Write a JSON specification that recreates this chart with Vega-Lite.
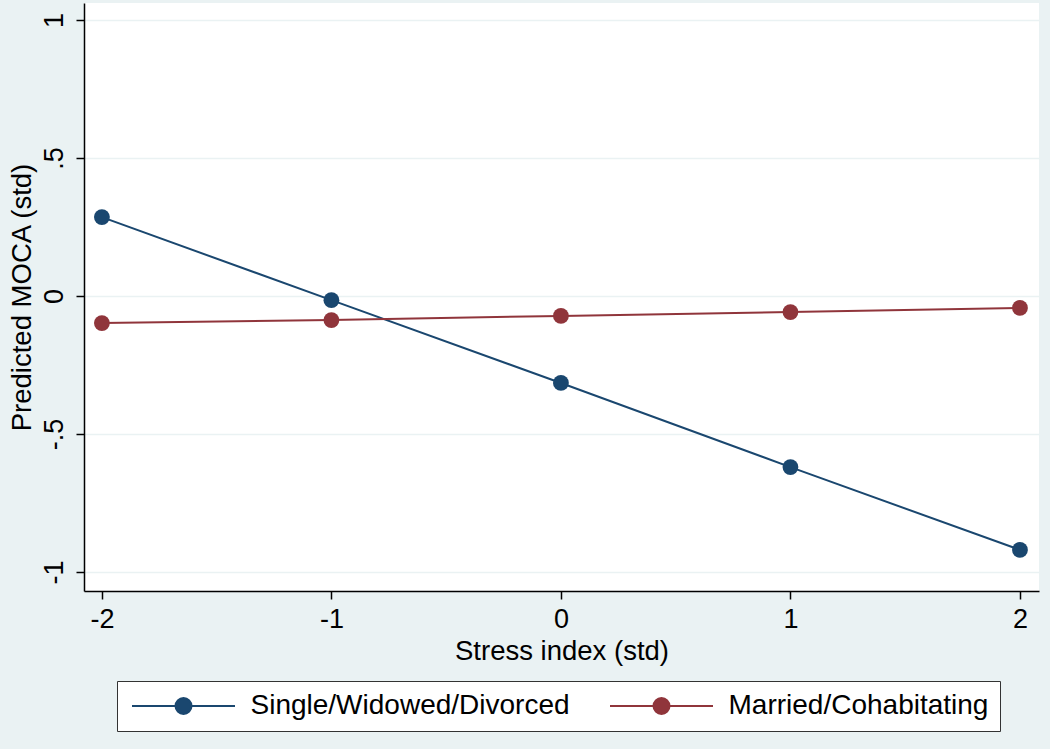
{
  "$schema": "https://vega.github.io/schema/vega-lite/v6.json",
  "width": 955,
  "height": 588,
  "autosize": {"type": "none"},
  "padding": {"left": 84, "top": 3, "right": 11, "bottom": 158},
  "background": "#eaf2f3",
  "config": {
    "view": {"stroke": null, "fill": "white"},
    "font": "Liberation Sans",
    "axis": {
      "labelFont": "Liberation Sans",
      "titleFont": "Liberation Sans",
      "labelFontSize": 27,
      "titleFontSize": 27.5,
      "labelColor": "#000000",
      "titleColor": "#000000",
      "titleFontWeight": "normal",
      "domainColor": "#000000",
      "domainWidth": 1.5,
      "tickColor": "#000000",
      "tickWidth": 1.5,
      "tickSize": 8,
      "gridColor": "#eaf2f3",
      "gridWidth": 1.5
    }
  },
  "data": {
    "values": [
      {"stress": -2, "moca": 0.286, "group": "Single/Widowed/Divorced"},
      {"stress": -1, "moca": -0.015, "group": "Single/Widowed/Divorced"},
      {"stress": 0, "moca": -0.315, "group": "Single/Widowed/Divorced"},
      {"stress": 1, "moca": -0.62, "group": "Single/Widowed/Divorced"},
      {"stress": 2, "moca": -0.92, "group": "Single/Widowed/Divorced"},
      {"stress": -2, "moca": -0.098, "group": "Married/Cohabitating"},
      {"stress": -1, "moca": -0.087, "group": "Married/Cohabitating"},
      {"stress": 0, "moca": -0.072, "group": "Married/Cohabitating"},
      {"stress": 1, "moca": -0.058, "group": "Married/Cohabitating"},
      {"stress": 2, "moca": -0.043, "group": "Married/Cohabitating"}
    ]
  },
  "encoding": {
    "x": {
      "field": "stress",
      "type": "quantitative",
      "scale": {"domain": [-2.078, 2.083], "nice": false, "zero": false},
      "axis": {
        "title": "Stress index (std)",
        "values": [-2, -1, 0, 1, 2],
        "grid": false,
        "labelExpr": "toString(datum.value)",
        "labelPadding": 7,
        "titlePadding": 5
      }
    },
    "y": {
      "field": "moca",
      "type": "quantitative",
      "scale": {"domain": [-1.069, 1.062], "nice": false, "zero": false},
      "axis": {
        "title": "Predicted MOCA (std)",
        "values": [-1, -0.5, 0, 0.5, 1],
        "grid": true,
        "labelExpr": "replace(toString(datum.value), '0.', '.')",
        "labelAngle": -90,
        "labelAlign": "center",
        "labelBaseline": "bottom",
        "labelPadding": 8,
        "titlePadding": 4
      }
    },
    "color": {
      "field": "group",
      "type": "nominal",
      "scale": {
        "domain": ["Single/Widowed/Divorced", "Married/Cohabitating"],
        "range": ["#1a476f", "#90353b"]
      },
      "legend": {
        "title": null,
        "orient": "none",
        "legendX": 33,
        "legendY": 678,
        "direction": "horizontal",
        "strokeColor": "#333333",
        "fillColor": "#ffffff",
        "padding": 11,
        "columnPadding": 36,
        "labelOffset": 53,
        "symbolOffset": 41.5,
        "labelFont": "Liberation Sans",
        "labelFontSize": 28,
        "labelColor": "#000000",
        "labelLimit": 500,
        "symbolType": "M-5.15,0H5.15M-0.8,0A0.8,0.8,0,1,0,0.8,0A0.8,0.8,0,1,0,-0.8,0Z",
        "symbolSize": 400,
        "symbolStrokeWidth": 2,
        "encode": {
          "symbols": {
            "update": {
              "fill": {"scale": "color", "field": "value"},
              "stroke": {"scale": "color", "field": "value"}
            }
          }
        }
      }
    }
  },
  "layer": [
    {"mark": {"type": "line", "strokeWidth": 2}},
    {"mark": {"type": "point", "filled": true, "size": 250, "opacity": 1, "shape": "circle"}}
  ]
}
